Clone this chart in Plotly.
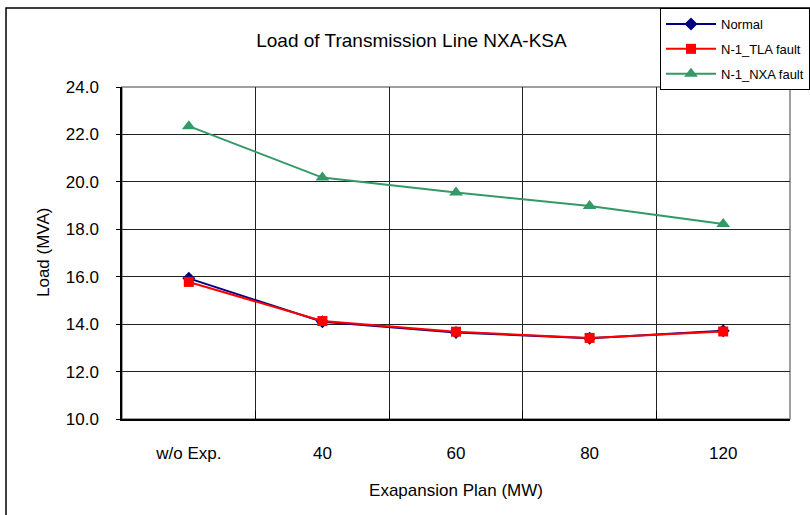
import plotly.graph_objects as go

categories = ["w/o Exp.", "40", "60", "80", "120"]
normal = [15.93, 14.10, 13.65, 13.40, 13.72]
n1_tla = [15.78, 14.13, 13.68, 13.42, 13.69]
n1_nxa = [22.35, 20.18, 19.55, 18.98, 18.22]
y_ticks = [10, 12, 14, 16, 18, 20, 22, 24]

xpos = list(range(len(categories)))
FONT = "Liberation Sans, Arial, sans-serif"

fig = go.Figure()
fig.add_trace(go.Scatter(x=xpos, y=normal, name="Normal", mode="lines+markers",
                         line=dict(color="#000080", width=2),
                         marker=dict(symbol="diamond", size=10, color="#000080"),
                         legendgroup="a"))
fig.add_trace(go.Scatter(x=xpos, y=n1_tla, name="N-1_TLA fault", mode="lines+markers",
                         line=dict(color="#FF0000", width=2),
                         marker=dict(symbol="square", size=10, color="#FF0000"),
                         legendgroup="b"))
fig.add_trace(go.Scatter(x=xpos, y=n1_nxa, name="N-1_NXA fault", mode="lines+markers",
                         line=dict(color="#339966", width=2),
                         marker=dict(symbol="triangle-up", size=12, color="#339966"),
                         legendgroup="c"))

fig.update_layout(
    width=810, height=515,
    margin=dict(l=122, r=20, t=87, b=96, autoexpand=False),
    paper_bgcolor="white", plot_bgcolor="white",
    font=dict(family=FONT, color="black", size=17),
    title=dict(text="Load of Transmission Line NXA-KSA", x=0.508, xanchor="center",
               y=1 - 40 / 515, yanchor="middle", font=dict(size=19, family=FONT)),
    showlegend=True,
    legend=dict(x=(660 - 122) / 668, y=(419 - 8) / 332, xanchor="left", yanchor="top",
                bordercolor="black", borderwidth=1, bgcolor="white",
                font=dict(size=13, family=FONT), itemwidth=50,
                tracegroupgap=5, traceorder="grouped"),
    xaxis=dict(range=[-0.5, 4.5], tickvals=xpos, ticktext=categories,
               showgrid=False, zeroline=False, showline=True, linecolor="black", linewidth=1.5,
               ticks="", ticklabelstandoff=18,
               minor=dict(tickvals=[0.5, 1.5, 2.5, 3.5], showgrid=True, gridcolor="#222222",
                          gridwidth=1, ticks="inside", ticklen=8, tickcolor="black"),
               title=dict(text="Exapansion Plan (MW)", standoff=22, font=dict(size=17))),
    yaxis=dict(range=[10, 24], tickvals=y_ticks, ticktext=[f"{v:.1f}" for v in y_ticks],
               showgrid=True, gridcolor="#222222", gridwidth=1, zeroline=False,
               showline=True, linecolor="black", linewidth=1.5,
               ticks="outside", ticklen=4, tickcolor="black", ticklabelstandoff=14),
    annotations=[
        dict(text="Load (MVA)", xref="paper", yref="paper", x=(43 - 122) / 668, y=0.5,
             xanchor="center", yanchor="middle", textangle=-90, showarrow=False,
             font=dict(size=17, family=FONT)),
    ],
    shapes=[
        dict(type="rect", xref="paper", yref="paper", x0=0, x1=1, y0=0, y1=1,
             line=dict(color="#808080", width=1.5), layer="below"),
        dict(type="rect", xref="paper", yref="paper",
             x0=(6 - 122) / 668, x1=(830 - 122) / 668,
             y0=(419 - 530) / 332, y1=(419 - 8) / 332,
             line=dict(color="black", width=1.5), layer="below"),
    ],
)

fig.write_html("out.html", config={"displayModeBar": False},
               post_script="document.body.style.margin='0';document.body.style.overflow='hidden';")
